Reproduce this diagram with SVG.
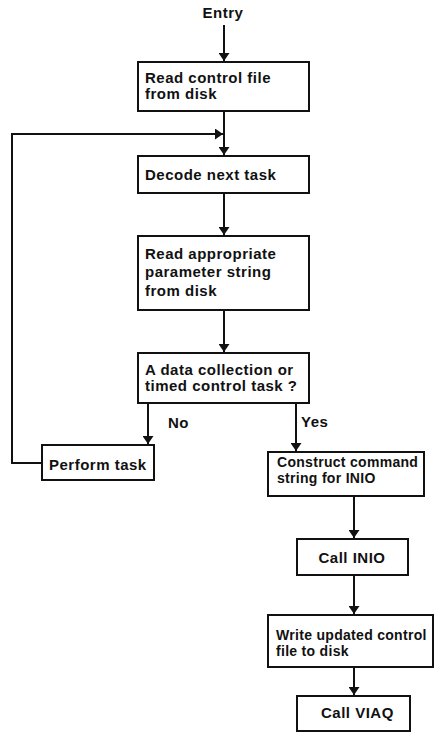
<svg xmlns="http://www.w3.org/2000/svg" width="439" height="733" viewBox="0 0 439 733">
<defs>
<marker id="ah" markerWidth="8" markerHeight="11" refX="8" refY="5.5" orient="auto" markerUnits="userSpaceOnUse">
<path d="M0,0 L8,5.5 L0,11 Z" fill="#111"/>
</marker>
<style>
.box{fill:#fff;stroke:#111;stroke-width:2}
.t{font-family:"Liberation Sans",Arial,sans-serif;font-weight:bold;font-size:15px;letter-spacing:0.5px;fill:#111}
.s{font-size:14px;letter-spacing:0.3px}
.c{text-anchor:middle}
.ln{fill:none;stroke:#111;stroke-width:2}
</style>
</defs>
<rect width="439" height="733" fill="#fff"/>
<g id="connectors">
<line class="ln" x1="224" y1="25" x2="224" y2="61" marker-end="url(#ah)"/>
<line class="ln" x1="224" y1="111" x2="224" y2="155" marker-end="url(#ah)"/>
<polyline class="ln" points="42,463 12,463 12,134 223,134" marker-end="url(#ah)"/>
<line class="ln" x1="224" y1="193" x2="224" y2="235" marker-end="url(#ah)"/>
<line class="ln" x1="224" y1="310" x2="224" y2="352" marker-end="url(#ah)"/>
<line class="ln" x1="148" y1="403" x2="148" y2="444" marker-end="url(#ah)"/>
<line class="ln" x1="296" y1="403" x2="296" y2="451" marker-end="url(#ah)"/>
<line class="ln" x1="354" y1="496" x2="354" y2="538" marker-end="url(#ah)"/>
<line class="ln" x1="354" y1="575" x2="354" y2="614" marker-end="url(#ah)"/>
<line class="ln" x1="354" y1="667" x2="354" y2="695" marker-end="url(#ah)"/>
<text class="t" x="168" y="428">No</text>
<text class="t" x="301" y="427">Yes</text>
</g>
<g id="entry"><text class="t c" x="223" y="18">Entry</text></g>
<g id="n1"><rect class="box" x="138" y="62" width="171" height="49"/>
<text class="t" x="145" y="83">Read control file</text><text class="t" x="145" y="99">from disk</text></g>
<g id="n2"><rect class="box" x="138" y="156" width="171" height="37"/>
<text class="t" x="145" y="180">Decode next task</text></g>
<g id="n3"><rect class="box" x="138" y="236" width="171" height="74"/>
<text class="t" x="145" y="259">Read appropriate</text><text class="t" x="145" y="277">parameter string</text><text class="t" x="145" y="296">from disk</text></g>
<g id="n4"><rect class="box" x="138" y="353" width="171" height="50"/>
<text class="t" x="145" y="375">A data collection or</text><text class="t" x="145" y="391">timed control task ?</text></g>
<g id="n5"><rect class="box" x="42" y="445" width="112" height="35"/>
<text class="t" x="49" y="470">Perform task</text></g>
<g id="n6"><rect class="box" x="268" y="452" width="156" height="44"/>
<text class="t s" x="277" y="467">Construct command</text><text class="t s" x="277" y="483">string for INIO</text></g>
<g id="n7"><rect class="box" x="297" y="539" width="111" height="36"/>
<text class="t c" x="352" y="563">Call INIO</text></g>
<g id="n8"><rect class="box" x="268" y="615" width="165" height="52"/>
<text class="t s" x="276" y="640">Write updated control</text><text class="t s" x="276" y="656">file to disk</text></g>
<g id="n9"><rect class="box" x="297" y="696" width="113" height="35"/>
<text class="t" x="321" y="718">Call VIAQ</text></g>
</svg>
